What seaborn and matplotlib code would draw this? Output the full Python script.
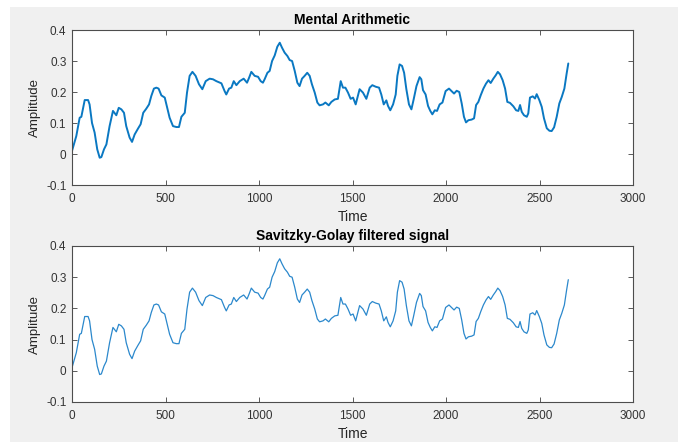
import numpy as np
import pandas as pd
import seaborn as sns
import matplotlib
matplotlib.use("Agg")
import matplotlib.pyplot as plt
from matplotlib.patches import Rectangle
from matplotlib.ticker import FuncFormatter

# ---- data ----
time = [0, 23, 41, 50, 68, 86, 94, 107, 121, 135, 148, 157, 171, 184, 201, 219, 237, 250, 264, 278,
        290, 308, 321, 335, 353, 367, 381, 397, 412, 424, 438, 451, 463, 478, 496, 505, 522, 540, 558, 572,
        585, 603, 615, 629, 644, 661, 679, 697, 715, 736, 754, 772, 799, 816, 825, 840, 852, 865, 879, 897,
        918, 936, 947, 959, 977, 995, 1009, 1021, 1030, 1045, 1057, 1070, 1084, 1098, 1111, 1123, 1137, 1152,
        1164, 1177, 1191, 1205, 1217, 1230, 1244, 1258, 1271, 1283, 1298, 1312, 1324, 1342, 1355, 1373, 1387,
        1405, 1422, 1437, 1449, 1462, 1476, 1490, 1503, 1517, 1538, 1556, 1574, 1592, 1606, 1624, 1642, 1654,
        1667, 1681, 1690, 1702, 1717, 1731, 1740, 1752, 1765, 1776, 1788, 1802, 1815, 1827, 1842, 1859, 1868,
        1877, 1891, 1904, 1916, 1927, 1940, 1952, 1966, 1981, 1998, 2016, 2043, 2057, 2071, 2084, 2096, 2107,
        2120, 2137, 2150, 2161, 2173, 2186, 2200, 2214, 2227, 2239, 2253, 2266, 2277, 2289, 2303, 2316, 2328,
        2342, 2360, 2375, 2387, 2396, 2405, 2417, 2432, 2440, 2449, 2464, 2476, 2485, 2499, 2512, 2524, 2539,
        2553, 2565, 2578, 2592, 2606, 2619, 2633, 2645, 2654]
filtered = [0.01, 0.058, 0.117, 0.12, 0.174, 0.174, 0.16, 0.10, 0.069, 0.015, -0.012, -0.01, 0.015, 0.031,
            0.09, 0.139, 0.125, 0.149, 0.144, 0.133, 0.09, 0.053, 0.039, 0.063, 0.082, 0.096, 0.133, 0.146,
            0.16, 0.187, 0.211, 0.214, 0.211, 0.189, 0.182, 0.16, 0.117, 0.09, 0.087, 0.087, 0.12, 0.133,
            0.198, 0.252, 0.265, 0.252, 0.225, 0.209, 0.235, 0.243, 0.241, 0.235, 0.228, 0.203, 0.192, 0.211,
            0.214, 0.235, 0.222, 0.235, 0.243, 0.23, 0.246, 0.265, 0.252, 0.249, 0.235, 0.23, 0.241, 0.262,
            0.268, 0.30, 0.318, 0.346, 0.359, 0.343, 0.327, 0.316, 0.303, 0.30, 0.268, 0.23, 0.219, 0.243,
            0.252, 0.262, 0.252, 0.225, 0.198, 0.166, 0.157, 0.16, 0.166, 0.157, 0.168, 0.176, 0.178, 0.235,
            0.214, 0.214, 0.198, 0.178, 0.182, 0.16, 0.209, 0.198, 0.178, 0.214, 0.222, 0.217, 0.214, 0.192,
            0.16, 0.173, 0.155, 0.141, 0.16, 0.192, 0.252, 0.289, 0.284, 0.262, 0.209, 0.16, 0.144, 0.176,
            0.219, 0.248, 0.241, 0.206, 0.192, 0.155, 0.139, 0.128, 0.141, 0.139, 0.16, 0.166, 0.203, 0.211,
            0.195, 0.204, 0.2, 0.163, 0.12, 0.102, 0.109, 0.111, 0.115, 0.158, 0.168, 0.19, 0.211, 0.227,
            0.238, 0.229, 0.243, 0.254, 0.265, 0.257, 0.238, 0.211, 0.168, 0.165, 0.154, 0.141, 0.139, 0.158,
            0.136, 0.125, 0.12, 0.131, 0.182, 0.186, 0.179, 0.193, 0.174, 0.152, 0.115, 0.083, 0.075, 0.074,
            0.086, 0.12, 0.163, 0.184, 0.211, 0.259, 0.292]
raw = list(filtered)  # raw signal follows the same course (drawn as a thicker, noisy-looking band)

titles = ["Mental Arithmetic", "Savitzky-Golay filtered signal"]
x_ticks = [0, 500, 1000, 1500, 2000, 2500, 3000]
y_ticks = [-0.1, 0, 0.1, 0.2, 0.3, 0.4]
x_label = "Time"
y_label = "Amplitude"

# ---- styling ----
sns.set_theme(style="ticks")
plt.rcParams["font.family"] = ["Liberation Sans", "DejaVu Sans"]
plt.rcParams["axes.linewidth"] = 0.8

TXT = "#262626"

fig = plt.figure(figsize=(6.78, 4.42), dpi=100, facecolor="white")
fig.add_artist(Rectangle((10 / 678, 0), 1, (442 - 7) / 442, transform=fig.transFigure,
                         facecolor="#f0f0f0", edgecolor="none", zorder=-10))

left = 72 / 678
width = (633 - 72) / 678
ax1 = fig.add_axes([left, 1 - 185 / 442, width, 155 / 442])
ax2 = fig.add_axes([left, 1 - 402 / 442, width, 156 / 442])

df_raw = pd.DataFrame({"t": time, "a": raw})
df_flt = pd.DataFrame({"t": time, "a": filtered})

sns.lineplot(data=df_raw, x="t", y="a", ax=ax1, color="#0a78c2", linewidth=1.4, estimator=None, sort=False)
sns.lineplot(data=df_flt, x="t", y="a", ax=ax2, color="#2b88cc", linewidth=0.9, estimator=None, sort=False)

fmt = FuncFormatter(lambda v, p: "0" if abs(v) < 1e-9 else f"{v:g}")
for ax, title in zip([ax1, ax2], titles):
    ax.set_facecolor("white")
    ax.set_xlim(0, 3000)
    ax.set_ylim(-0.1, 0.4)
    ax.set_xticks(x_ticks)
    ax.set_yticks(y_ticks)
    ax.yaxis.set_major_formatter(fmt)
    ax.tick_params(direction="in", top=True, right=True, length=3.5, width=0.6,
                   colors="#404040", labelcolor="#333333", labelsize=8.5)
    ax.tick_params(axis="x", pad=6)
    ax.tick_params(axis="y", pad=4)
    for s in ax.spines.values():
        s.set_visible(True)
        s.set_color("#4d4d4d")
        s.set_linewidth(0.8)
    ax.set_xlabel(x_label, fontsize=10, color=TXT, labelpad=3.5)
    ax.set_ylabel(y_label, fontsize=9.5, color=TXT, labelpad=4)
    ax.set_title(title, fontsize=10, fontweight="bold", color="black", pad=4)

fig.savefig("out.png", dpi=100, facecolor="white")
